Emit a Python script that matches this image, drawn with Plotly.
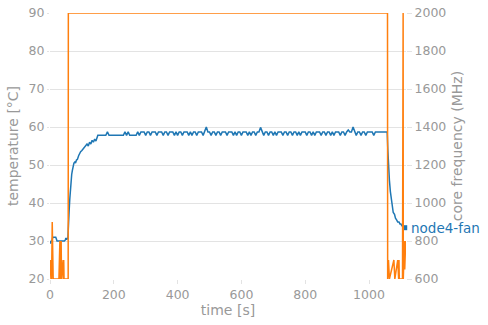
import plotly.graph_objects as go

# temperature series (time [s], temperature [°C])
temp_time = [0, 2, 4, 6, 8, 10, 14, 18, 20, 22, 26, 30, 35, 40, 45, 48, 50, 52, 54, 56,
             58, 60, 62, 64, 66, 68, 70, 72, 75, 78, 80, 83, 86, 90, 93, 96, 100, 104, 108,
             112, 116, 120, 124, 128, 132, 136, 140, 144, 148,
             150, 155, 160, 165, 170, 175, 180, 185, 190, 195, 200, 205, 210, 215, 220, 225, 230, 235, 240, 245,
             250, 255, 260, 265, 270, 275, 280, 285, 290, 295, 300, 305, 310, 315, 320, 325, 330, 335, 340, 345,
             350, 355, 360, 365, 370, 375, 380, 385, 390, 395, 400, 405, 410, 415, 420, 425, 430, 435, 440, 445,
             450, 455, 460, 465, 470, 475, 480, 485, 490, 495, 500, 505, 510, 515, 520, 525, 530, 535, 540, 545,
             550, 555, 560, 565, 570, 575, 580, 585, 590, 595, 600, 605, 610, 615, 620, 625, 630, 635, 640, 645,
             650, 655, 660, 665, 670, 675, 680, 685, 690, 695, 700, 705, 710, 715, 720, 725, 730, 735, 740, 745,
             750, 755, 760, 765, 770, 775, 780, 785, 790, 795, 800, 805, 810, 815, 820, 825, 830, 835, 840, 845,
             850, 855, 860, 865, 870, 875, 880, 885, 890, 895, 900, 905, 910, 915, 920, 925, 930, 935, 940, 945,
             950, 955, 960, 965, 970, 975, 980, 985, 990, 995, 1000, 1005, 1010, 1015, 1020, 1025, 1030, 1035, 1040, 1045,
             1050, 1055, 1057,
             1059, 1061, 1064, 1067, 1070, 1073, 1076, 1080, 1083, 1087, 1090, 1094, 1097,
             1100, 1103, 1106, 1109, 1112]
temp_vals = [30, 29.3, 30, 30, 30.8, 31, 31, 31, 30.5, 30, 30, 30, 30, 30, 30, 30.3, 30.8, 30.3, 30.8, 30.5,
             33, 38, 41, 44, 46, 47.5, 48.5, 50, 50.5, 50.8, 50.5, 51.3, 51.5, 52.5, 53.2, 53.5, 53.8, 54.2, 54.5,
             54.8, 55.5, 55, 56, 55.5, 56.5, 56, 56.8, 56.3, 57.5,
             57.8, 57.8, 57.8, 57.8, 57.8, 57.8, 58.7, 57.8, 57.8, 57.8, 57.8, 57.8, 57.8, 57.8, 57.8, 57.8, 57.8, 58.7, 57.8, 58.7,
             57.8, 57.8, 57.8, 57.8, 57.8, 58.7, 57.8, 58.7, 58.7, 58.7, 57.8, 58.7, 58.7, 57.8, 58.7, 58.7, 58.7, 57.8, 58.7, 58.7,
             58.7, 57.8, 58.7, 58.7, 57.8, 58.7, 58.7, 58.7, 57.8, 58.7, 57.8, 58.7, 58.7, 57.8, 58.7, 58.7, 58.7, 57.8, 58.7, 57.8,
             58.7, 58.7, 57.8, 58.7, 58.7, 58.7, 57.8, 58.7, 60.0, 58.7, 58.7, 57.8, 58.7, 58.7, 57.8, 58.7, 58.7, 57.8, 58.7, 58.7,
             58.7, 57.8, 58.7, 58.7, 58.7, 57.8, 58.7, 57.8, 58.7, 58.7, 57.8, 58.7, 58.7, 58.7, 57.8, 58.7, 57.8, 58.7, 58.7, 57.8,
             58.7, 58.7, 59.9, 58.7, 57.8, 58.7, 58.7, 57.8, 58.7, 58.7, 57.8, 58.7, 57.8, 58.7, 58.7, 58.7, 57.8, 58.7, 58.7, 57.8,
             58.7, 58.7, 57.8, 58.7, 58.7, 57.8, 58.7, 57.8, 58.7, 58.7, 58.7, 57.8, 58.7, 58.7, 57.8, 58.7, 57.8, 58.7, 58.7, 58.7,
             57.8, 58.7, 58.7, 57.8, 58.7, 58.7, 57.8, 58.7, 57.8, 58.7, 58.7, 58.7, 57.8, 58.7, 58.7, 57.8, 58.7, 59.2, 58.7, 58.7,
             60.0, 58.7, 57.8, 58.7, 58.7, 57.8, 58.7, 58.7, 57.8, 58.7, 58.7, 58.7, 58.7, 57.8, 58.7, 58.7, 58.7, 58.7, 58.7, 58.7,
             58.7, 58.7, 58.7,
             54, 50, 46, 43, 41, 38.5, 37.5, 37, 36, 35.5, 35, 35, 34.5,
             34.5, 34, 34, 33.5, 33.5]

# core frequency series (time [s], MHz)
freq_time = [0, 1, 2, 3, 4, 5, 7, 8, 9, 10, 28, 29, 30, 31, 32, 33, 34, 35, 36, 41, 42, 43, 44,
             57, 57.5, 1058, 1058.5, 1061, 1062, 1063, 1064, 1078, 1079, 1080, 1081,
             1090, 1091, 1092, 1093, 1094, 1095, 1105, 1105.5, 1107, 1107.5, 1109, 1110, 1111,
             1112, 1113, 1114, 1115]
freq_vals = [700, 600, 700, 600, 700, 600, 900, 600, 900, 600, 600, 800, 600, 800, 600, 800, 600, 800, 600,
             700, 600, 700, 600, 600, 2000, 2000, 600, 700, 600, 700, 600, 700, 600, 700, 600,
             700, 600, 700, 600, 700, 600, 600, 2000, 2000, 600, 800, 650, 800, 650, 800, 650, 800]

series_name = "node4-fan"
x_ticks = [0, 200, 400, 600, 800, 1000]
y1_ticks = [20, 30, 40, 50, 60, 70, 80, 90]
y2_ticks = [600, 800, 1000, 1200, 1400, 1600, 1800, 2000]

BLUE = "#1f77b4"
ORANGE = "#ff7f0e"
GRID = "#e3e3e3"
TXT = "#999999"

fig = go.Figure()
fig.add_trace(go.Scatter(x=freq_time, y=freq_vals, yaxis="y2", mode="lines",
                         line=dict(color=ORANGE, width=1.5), showlegend=False, hoverinfo="skip"))
fig.add_trace(go.Scatter(x=temp_time, y=temp_vals, mode="lines", name=series_name,
                         line=dict(color=BLUE, width=1.5), showlegend=False))
fig.add_trace(go.Scatter(x=[temp_time[-1]], y=[temp_vals[-1]], mode="markers",
                         marker=dict(color=BLUE, size=5, symbol="square"), showlegend=False,
                         cliponaxis=False))

fig.add_annotation(x=temp_time[-1], y=temp_vals[-1], xref="x", yref="y", text=series_name,
                   showarrow=False, xanchor="left", yanchor="middle", xshift=4,
                   font=dict(color=BLUE, size=13.5))

fig.update_layout(
    width=488, height=325,
    margin=dict(l=50, r=82, t=13, b=46, autoexpand=False),
    paper_bgcolor="white", plot_bgcolor="white",
    font=dict(family="DejaVu Sans", color=TXT, size=12.5),
    xaxis=dict(range=[0, 1116], tickvals=x_ticks, showgrid=False, zeroline=False,
               ticks="outside", ticklen=4, tickcolor=GRID, showline=False, automargin=False,
               title=dict(text="time [s]", font=dict(size=14), standoff=2)),
    yaxis=dict(range=[20, 90], tickvals=y1_ticks, gridcolor=GRID, zeroline=False,
               ticks="outside", ticklen=2, tickcolor=GRID, showline=False, automargin=False,
               title=dict(text="temperature [°C]", font=dict(size=14), standoff=6)),
    yaxis2=dict(range=[600, 2000], tickvals=y2_ticks, overlaying="y", side="right",
                showgrid=False, zeroline=False, ticks="outside", ticklen=5, tickcolor=GRID,
                showline=False, automargin=False,
                title=dict(text="core frequency (MHz)", font=dict(size=14), standoff=6)),
)

fig.write_html("out.html", config={"displayModeBar": False},
               post_script="document.body.style.margin='0';document.body.style.overflow='hidden';")
